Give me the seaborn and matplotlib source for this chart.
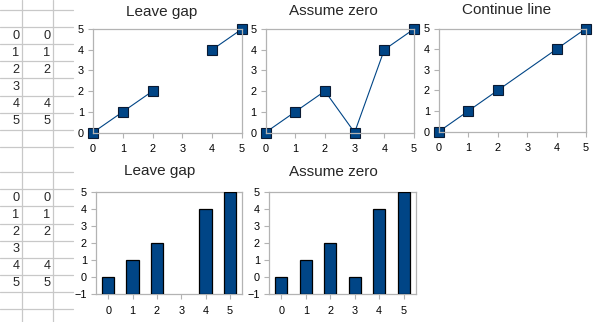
import numpy as np
import pandas as pd
import matplotlib
matplotlib.use("Agg")
import matplotlib.pyplot as plt
import seaborn as sns

# ---- data ----
col_a = [0, 1, 2, 3, 4, 5]
col_b = [0, 1, 2, np.nan, 4, 5]
line_titles = ["Leave gap", "Assume zero", "Continue line"]
bar_titles = ["Leave gap", "Assume zero"]
y_ticks_line = [0, 1, 2, 3, 4, 5]
y_ticks_bar = [-1, 0, 1, 2, 3, 4, 5]

sns.set_theme(style="white")
plt.rcParams["font.family"] = ["Liberation Sans", "DejaVu Sans"]

W, H = 597, 322
fig = plt.figure(figsize=(W / 100, H / 100), dpi=100)
fig.patch.set_facecolor("white")

BLUE = "#004586"
FRAME = "#b3b3b3"
GRID = "#c8c8c8"


def px_axes(x0, y0, x1, y1):
    return fig.add_axes([x0 / W, 1 - y1 / H, (x1 - x0) / W, (y1 - y0) / H])


# ---- spreadsheet background ----
bg = fig.add_axes([0, 0, 1, 1])
bg.set_xlim(0, W)
bg.set_ylim(H, 0)
bg.axis("off")
top_lines = [10.0 + 17.1 * k for k in range(9)]
bot_lines = [172.0] + [189.3 + 17.1 * k for k in range(8)]
for yy in top_lines + bot_lines:
    bg.plot([0, 73], [yy, yy], color=GRID, lw=0.9)
for xx in [21.5, 52.5]:
    bg.plot([xx, xx], [0, H], color=GRID, lw=0.9)


def sheet_block(lines):
    for i, (a, b) in enumerate(zip(col_a, col_b)):
        yc = (lines[i + 1] + lines[i + 2]) / 2
        bg.text(19.5, yc, f"{a}", ha="right", va="center", fontsize=9.2)
        if not pd.isna(b):
            bg.text(50.5, yc, f"{int(b)}", ha="right", va="center", fontsize=9.2)


sheet_block(top_lines)
sheet_block(bot_lines)


def style_axes(ax):
    ax.set_facecolor("white")
    for s in ax.spines.values():
        s.set_visible(True)
        s.set_color(FRAME)
        s.set_linewidth(0.9)
    ax.tick_params(axis="both", which="both", length=3.5, width=0.8,
                   color=FRAME, labelcolor="black", labelsize=7.8,
                   bottom=True, left=True, direction="out")
    ax.tick_params(axis="x", pad=4.8)
    ax.tick_params(axis="y", pad=3.0)
    ax.set_xlabel("")
    ax.set_ylabel("")
    ax.grid(False)


# ---- line charts ----
df = pd.DataFrame({"x": col_a, "y": col_b})
gap_df = df.assign(seg=np.cumsum(df["y"].isna())).dropna()
zero_df = df.assign(y=df["y"].fillna(0))
cont_df = df.dropna()

line_boxes = [(93, 29, 242, 132.5), (265.5, 29, 414, 132.5), (439, 28.5, 586, 131.5)]
title_pos = [(162, 16), (333, 15), (507, 14)]
line_kws = dict(color=BLUE, lw=0.8, marker="s", markersize=7.0,
                markerfacecolor=BLUE, markeredgecolor="#0a1a33",
                markeredgewidth=0.8, clip_on=False)

for k, box in enumerate(line_boxes):
    ax = px_axes(*box)
    if k == 0:
        sns.lineplot(data=gap_df, x="x", y="y", units="seg", estimator=None,
                     ax=ax, **line_kws)
    elif k == 1:
        sns.lineplot(data=zero_df, x="x", y="y", estimator=None, ax=ax, **line_kws)
    else:
        sns.lineplot(data=cont_df, x="x", y="y", estimator=None, ax=ax, **line_kws)
    ax.set_xlim(0, 5)
    ax.set_ylim(0, 5)
    ax.set_xticks(col_a)
    ax.set_yticks(y_ticks_line)
    style_axes(ax)
    fig.text(title_pos[k][0] / W, 1 - title_pos[k][1] / H, line_titles[k],
             ha="center", va="baseline", fontsize=11)

# ---- bar charts ----
bar_boxes = [(96, 192, 242, 294), (269, 192, 416, 294)]
bar_title_pos = [(160, 175), (333, 176)]
base = y_ticks_bar[0]
bar_data = [df.dropna(), zero_df]
for k, box in enumerate(bar_boxes):
    ax = px_axes(*box)
    d = bar_data[k]
    ax.bar(d["x"], d["y"] - base, bottom=base, width=0.5, color=BLUE,
           edgecolor="black", linewidth=0.9, zorder=3)
    ax.set_xlim(-0.5, 5.5)
    ax.set_ylim(-1, 5)
    ax.set_xticks(col_a)
    ax.set_yticks(y_ticks_bar)
    style_axes(ax)
    fig.text(bar_title_pos[k][0] / W, 1 - bar_title_pos[k][1] / H, bar_titles[k],
             ha="center", va="baseline", fontsize=11)

fig.savefig("out.png", dpi=100, facecolor="white")
